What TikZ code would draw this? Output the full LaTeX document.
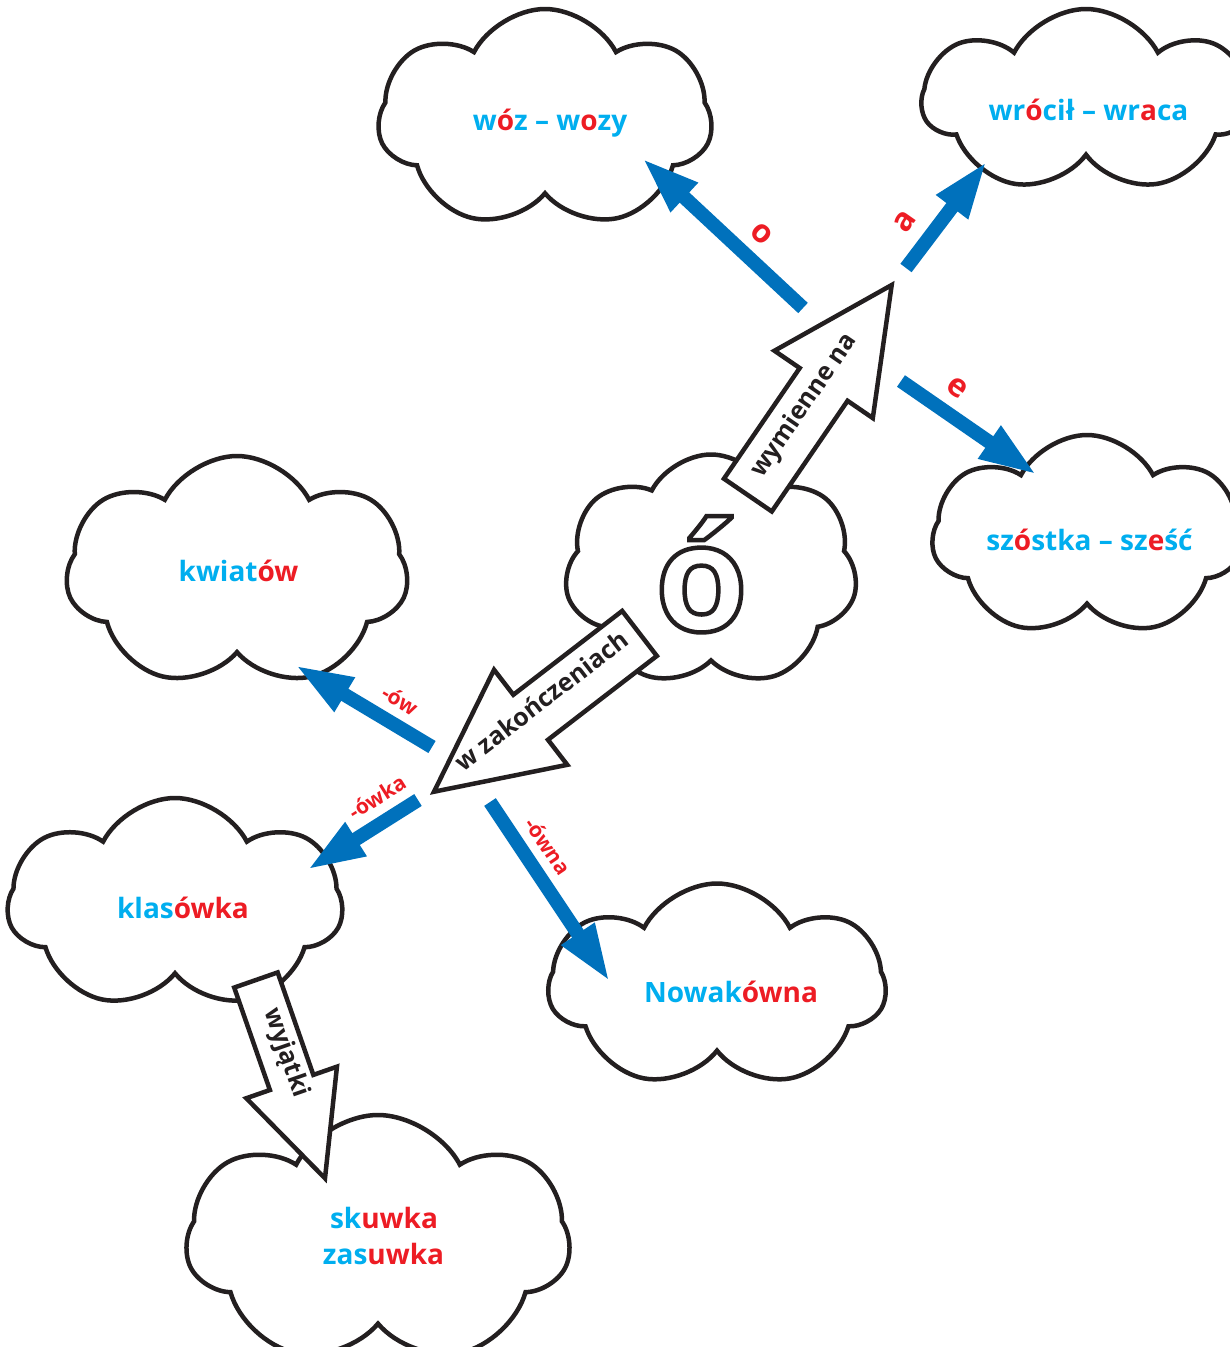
\documentclass[tikz,border=0pt]{standalone}
\usepackage{fontspec}
\setmainfont{Open Sans}
\usetikzlibrary{shapes.symbols,arrows.meta}
\definecolor{cyanw}{HTML}{00AEEF}
\definecolor{redw}{HTML}{ED1C24}
\definecolor{bluea}{HTML}{0071BC}
\definecolor{ink}{HTML}{231F20}
\newcommand\cyt[1]{\textcolor{cyanw}{#1}}
\newcommand\rdt[1]{\textcolor{redw}{#1}}
\newcommand\outlinetext[1]{\special{pdf:literal direct 1 Tr 4.5 w}#1\special{pdf:literal direct 0 Tr}}
\tikzset{
  cloudbox/.style 2 args={cloud, cloud puffs=7, cloud puff arc=125, cloud ignores aspect,
    draw=ink, line width=4.5pt, fill=white, inner sep=0pt,
    minimum width=#1, minimum height=#2},
  word/.style={font=\fontsize{28}{30}\selectfont\bfseries, anchor=base, inner sep=0pt},
  tag/.style={font=\fontsize{32}{34}\selectfont\bfseries, text=redw, inner sep=0pt},
  smalltag/.style={font=\fontsize{21}{23}\selectfont\bfseries, text=redw, inner sep=0pt},
  bluearrow/.style={draw=bluea, line width=14pt, -{Triangle[length=58pt,width=36pt]}},
  hollow/.style={draw=ink, fill=white, line width=4.5pt, line join=miter},
  arrowtext/.style={font=\fontsize{25}{27}\selectfont\bfseries, text=ink, inner sep=0pt,
    text height=0.76em, text depth=0.24em},
}
\begin{document}
\begin{tikzpicture}[x=1pt,y=1pt]
\path[use as bounding box, clip] (0,0) rectangle (1230,-1347);
\fill[white] (0,0) rectangle (1230,-1347);
% clouds
\node[cloudbox={334pt}{220pt}, shape border rotate=10] (cwoz) at (545,-119) {};
\node[cloudbox={327pt}{184pt}, shape border rotate=-20] (cwro) at (1086,-101) {};
\node[cloudbox={310pt}{202pt}, shape border rotate=15] (csz) at (1087,-536) {};
\node[cloudbox={293pt}{233pt}, shape border rotate=-10] (co) at (711,-571) {};
\node[cloudbox={342pt}{232pt}, shape border rotate=20] (ckw) at (237,-572) {};
\node[cloudbox={335pt}{212pt}, shape border rotate=0] (ckl) at (175,-904) {};
\node[cloudbox={337pt}{205pt}, shape border rotate=25] (cno) at (717,-986) {};
\node[cloudbox={384pt}{250pt}, shape border rotate=-15] (csk) at (378,-1240) {};
% big letter
\node[anchor=base, inner sep=0pt, text=ink, font=\fontsize{150}{155}\selectfont\bfseries] (bigo) at (701.5,-631) {\outlinetext{ó}};
% hollow arrows
\begin{scope}[shift={(891.7,-285)}, rotate=55.6]
  \draw[hollow] (0,0) -- (-120.5,59.6) -- (-120.5,29) -- (-254.6,29) -- (-254.6,-29) -- (-120.5,-29) -- (-120.5,-59.6) -- cycle;
  \node[arrowtext, rotate=55.6] (twym) at (-149,0) {wymienne na};
\end{scope}
\begin{scope}[shift={(434,-791.7)}, rotate=217.6]
  \draw[hollow] (0,0) -- (-122,60) -- (-122,28.4) -- (-259.4,28.4) -- (-259.4,-28.4) -- (-122,-28.4) -- (-122,-60) -- cycle;
  \node[arrowtext, rotate=37.6] (tzak) at (-140.8,0) {w zakończeniach};
\end{scope}
\begin{scope}[shift={(325,-1178.3)}, rotate=-70.8]
  \draw[hollow] (0,0) -- (-101.5,48) -- (-101.5,23) -- (-210,23) -- (-210,-23) -- (-101.5,-23) -- (-101.5,-48) -- cycle;
  \node[arrowtext, rotate=-70.8] (twyj) at (-131,0) {wyjątki};
\end{scope}
% blue arrows
\coordinate (oT) at (803,-308);   \coordinate (oH) at (642,-158);
\coordinate (aT) at (906,-268);   \coordinate (aH) at (987,-161);
\coordinate (eT) at (901,-381);   \coordinate (eH) at (1037,-475);
\coordinate (owT) at (432,-747);  \coordinate (owH) at (295,-665);
\coordinate (okT) at (418,-800);  \coordinate (okH) at (307,-870);
\coordinate (onT) at (490,-802);  \coordinate (onH) at (610,-982);
\draw[bluearrow] (oT) -- (oH);
\draw[bluearrow] (aT) -- (aH);
\draw[bluearrow] (eT) -- (eH);
\draw[bluearrow] (owT) -- (owH);
\draw[bluearrow] (okT) -- (okH);
\draw[bluearrow] (onT) -- (onH);
\node[tag, rotate=-43] (lo) at (762,-234) {o};
\node[tag, rotate=55] (la) at (905,-222) {a};
\node[tag, rotate=-35] (le) at (957,-388) {e};
\node[smalltag, rotate=-31] (low) at (400,-700) {-ów};
\node[smalltag, rotate=32] (lok) at (377,-797) {-ówka};
\node[smalltag, rotate=-56] (lon) at (548,-846) {-ówna};
% words
\node[word] (twoz) at (550,-130) {\cyt{w}\rdt{ó}\cyt{z – w}\rdt{o}\cyt{zy}};
\node[word] (twro) at (1088.5,-120) {\cyt{wr}\rdt{ó}\cyt{cił – wr}\rdt{a}\cyt{ca}};
\node[word] (tsz) at (1089.5,-550) {\cyt{sz}\rdt{ó}\cyt{stka – sz}\rdt{e}\cyt{ść}};
\node[word] (tkw) at (238.5,-581) {\cyt{kwiat}\rdt{ów}};
\node[word] (tkl) at (183,-918) {\cyt{klas}\rdt{ówka}};
\node[word] (tno) at (731,-1002) {\cyt{Nowak}\rdt{ówna}};
\node[word] (tsk) at (384,-1228) {\cyt{sk}\rdt{uwka}};
\node[word] (tzas) at (383.5,-1264) {\cyt{zas}\rdt{uwka}};
\end{tikzpicture}
\end{document}
